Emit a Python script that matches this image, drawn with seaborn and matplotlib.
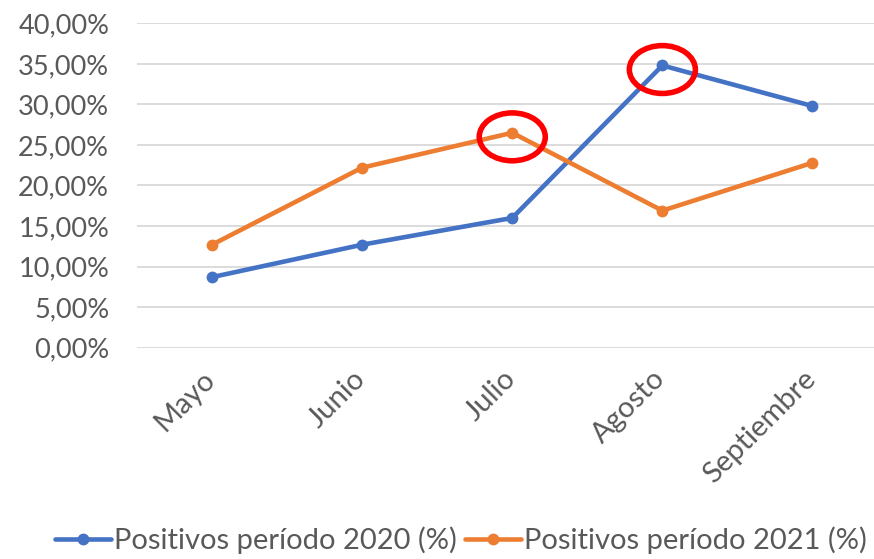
import matplotlib
matplotlib.use("Agg")
import matplotlib.pyplot as plt
import matplotlib.transforms as mtransforms
from matplotlib.patches import Ellipse
from matplotlib.ticker import FuncFormatter
import seaborn as sns
import pandas as pd

meses = ["Mayo", "Junio", "Julio", "Agosto", "Septiembre"]
positivos_2020 = [8.7, 12.7, 16.0, 34.8, 29.8]
positivos_2021 = [12.7, 22.2, 26.5, 16.9, 22.8]
serie_2020 = "Positivos período 2020 (%)"
serie_2021 = "Positivos período 2021 (%)"
y_ticks = [0, 5, 10, 15, 20, 25, 30, 35, 40]

df = pd.DataFrame({
    "mes": meses * 2,
    "valor": positivos_2020 + positivos_2021,
    "serie": [serie_2020] * len(meses) + [serie_2021] * len(meses),
})

sns.set_theme(style="white")
plt.rcParams["font.family"] = ["Lato", "DejaVu Sans"]
txt = "#595959"

fig = plt.figure(figsize=(8.74, 5.59), dpi=100)
ax = fig.add_axes([137 / 874, 1 - 347.7 / 559, 1 - 137 / 874, (347.7 - 23.3) / 559])

palette = {serie_2020: "#4472C4", serie_2021: "#ED7D31"}
sns.lineplot(data=df, x="mes", y="valor", hue="serie", palette=palette,
             marker="o", markersize=8.5, markeredgewidth=0, linewidth=3.3,
             sort=False, ax=ax, legend=True, zorder=3)

ax.set_ylim(0, 40)
ax.set_xlim(-0.5, 4.41)
ax.set_yticks(y_ticks)
ax.yaxis.set_major_formatter(FuncFormatter(lambda v, p: f"{v:.2f}".replace(".", ",") + "%"))
ax.grid(axis="y", color="#d9d9d9", linewidth=1.3, zorder=0)
ax.grid(axis="x", visible=False)
for s in ax.spines.values():
    s.set_visible(False)
ax.set_xlabel("")
ax.set_ylabel("")
ax.tick_params(axis="y", length=0, pad=20, labelsize=19.5, labelcolor=txt)
ax.tick_params(axis="x", length=0, pad=13, labelsize=21, labelcolor=txt)
ax.set_xticks(range(len(meses)))
ax.set_xticklabels(meses, rotation=45, ha="right", va="top", rotation_mode="anchor")
offset = mtransforms.ScaledTranslation(-10 / 100, 0, fig.dpi_scale_trans)
for lbl in ax.get_xticklabels():
    lbl.set_transform(lbl.get_transform() + offset)

# highlight circles
for xi, yv in [(2, positivos_2021[2]), (3, positivos_2020[3])]:
    ax.add_patch(Ellipse((xi, yv - 0.5), width=0.44, height=5.9, fill=False,
                         edgecolor="#FF0000", linewidth=4.0, zorder=5, clip_on=False))

handles, labels = ax.get_legend_handles_labels()
ax.legend(handles, labels, loc="center",
          bbox_to_anchor=(461 / 874, 1 - 540 / 559), bbox_transform=fig.transFigure,
          ncol=2, frameon=False, fontsize=21,
          labelcolor=txt, handlelength=1.9, handletextpad=0.1, columnspacing=0.3,
          borderaxespad=0, borderpad=0)

fig.savefig("out.png", dpi=100, facecolor="white")
